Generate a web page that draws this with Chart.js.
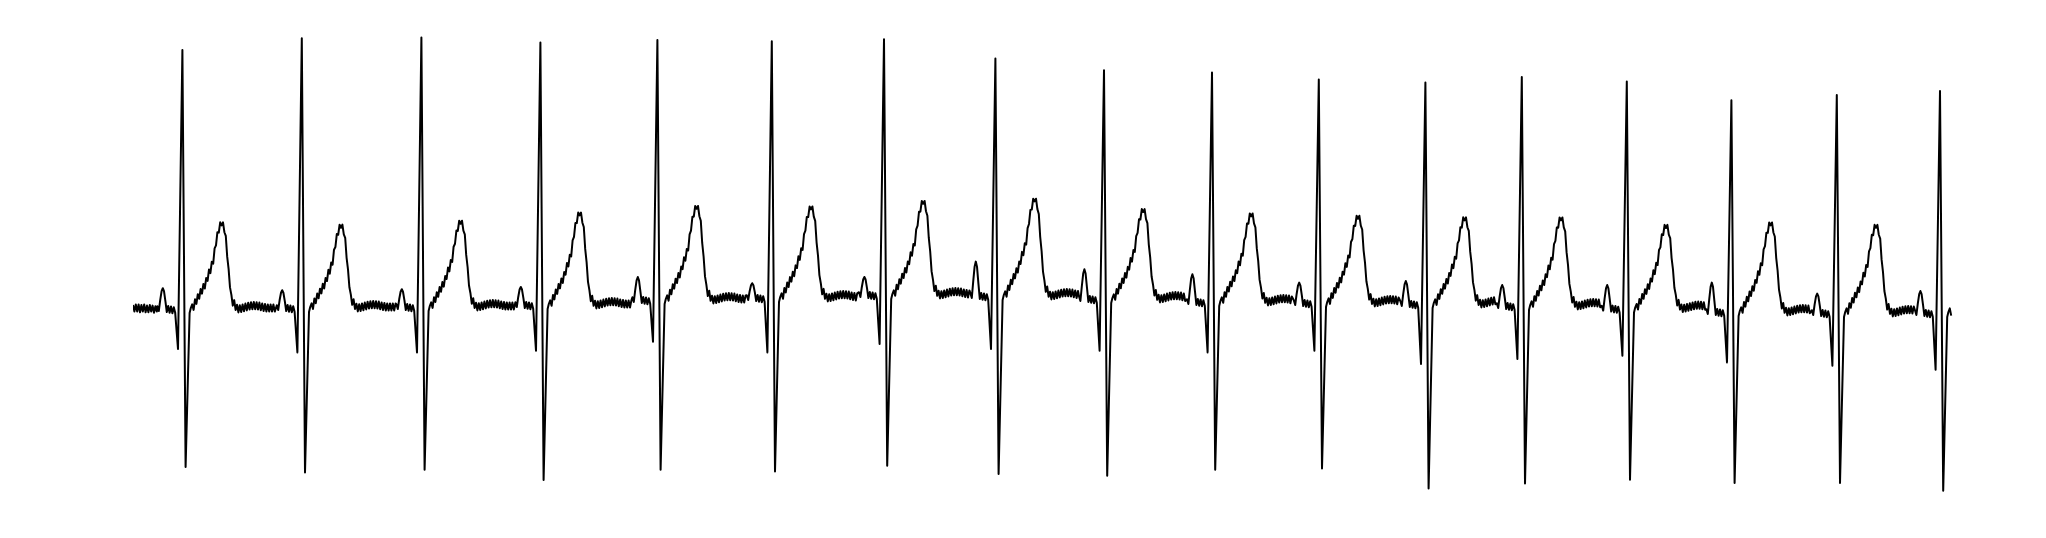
<!DOCTYPE html>
<html>
<head>
<meta charset="utf-8">
<script src="https://cdn.jsdelivr.net/npm/chart.js@4"></script>
<style>
    html, body { margin: 0; padding: 0; background: #fff; }
    #wrap { width: 2046px; height: 538px; }
</style>
</head>
<body>
<div id="wrap"><canvas id="ecg" width="2046" height="538"></canvas></div>
<script>
// R peak of every beat, ms from the start of the strip
const rPeakMs = [247, 844, 1442, 2037, 2622, 3194, 3755, 4312, 4855, 5395, 5929, 6462, 6944, 7469, 7992, 8519, 9035];
const traceEndMs = 9095;

const baselineMv = [-0.005, 0, 0.005, 0.015, 0.04, 0.05, 0.065, 0.06, 0.045, 0.03, 0.025, 0.02, 0.01, -0.003, -0.02, -0.025, -0.025];
const pTopMv = [0.094, 0.084, 0.089, 0.1, 0.15, 0.119, 0.15, 0.227, 0.189, 0.164, 0.122, 0.13, 0.11, 0.11, 0.122, 0.067, 0.08];
const qLowMv = [-0.21, -0.227, -0.227, -0.219, -0.174, -0.227, -0.185, -0.21, -0.219, -0.227, -0.219, -0.285, -0.26, -0.244, -0.277, -0.294, -0.314];
const rTopMv = [1.285, 1.344, 1.347, 1.322, 1.335, 1.329, 1.339, 1.242, 1.184, 1.172, 1.137, 1.122, 1.15, 1.127, 1.034, 1.06, 1.08];
const sLowMv = [-0.8, -0.827, -0.814, -0.865, -0.814, -0.822, -0.794, -0.835, -0.844, -0.814, -0.807, -0.907, -0.882, -0.864, -0.88, -0.88, -0.919];
const tTopMv = [0.422, 0.41, 0.43, 0.472, 0.505, 0.502, 0.53, 0.542, 0.489, 0.467, 0.455, 0.447, 0.447, 0.409, 0.422, 0.41, null];

// strip before the first P wave (ms, mV above first baseline)
const leadInMs = [0, 7, 14, 21, 28, 35, 42, 49, 56, 63, 70, 77, 84, 91, 98, 105, 112, 119];
const leadInMv = [0.015, -0.018, 0.018, -0.018, 0.018, -0.021, 0.015, -0.018, 0.018, -0.021, 0.012, -0.021, 0.015, -0.018, 0.012, -0.024, 0.009, -0.018];

// shape of one beat around its R peak: [ms from R, wave, share of that wave, mains ripple mV]
const beatShape = [
    [-125, 'b', 0, 0.009], [-118, 'b', 0, -0.015],
    [-111, 'p', 0.4, 0], [-104, 'p', 0.85, 0], [-98, 'p', 1, 0], [-92, 'p', 0.85, 0], [-85, 'p', 0.35, 0],
    [-78, 'b', 0, -0.02], [-71, 'b', 0, 0.01], [-64, 'b', 0, -0.024], [-57, 'b', 0, 0.008],
    [-50, 'b', 0, -0.026], [-43, 'b', 0, 0.004], [-36, 'b', 0, -0.024],
    [-22, 'q', 1, 0], [0, 'r', 1, 0], [16, 's', 1, 0],
    [36, 'b', 0, -0.025], [42, 'b', 0, 0],
    [49, 't', 0, 0.018], [56, 't', 0.02, -0.018], [63, 't', 0.06, 0.018], [70, 't', 0.09, -0.018],
    [77, 't', 0.12, 0.018], [84, 't', 0.15, -0.018], [91, 't', 0.18, 0.018], [98, 't', 0.21, -0.018],
    [105, 't', 0.24, 0.018], [112, 't', 0.27, -0.018], [119, 't', 0.31, 0.018], [126, 't', 0.36, -0.018],
    [133, 't', 0.41, 0.018], [140, 't', 0.45, -0.018], [147, 't', 0.5, 0.018], [154, 't', 0.56, -0.018],
    [161, 't', 0.66, 0.016], [168, 't', 0.77, -0.016], [175, 't', 0.85, 0.016], [182, 't', 0.92, -0.016],
    [189, 't', 0.97, 0.014], [196, 't', 1, -0.014], [203, 't', 0.97, 0.014], [210, 't', 0.92, -0.014],
    [217, 't', 0.82, 0.01], [224, 't', 0.62, -0.008], [231, 't', 0.44, 0.008], [238, 't', 0.26, -0.008],
    [245, 't', 0.13, 0.01], [252, 't', 0.07, -0.018], [259, 't', 0.05, 0.018], [266, 't', 0.02, -0.018],
    [273, 'b', 0, 0.016],
    [280, 'b', 0, -0.022], [287, 'b', 0, 0.014], [294, 'b', 0, -0.02], [301, 'b', 0, 0.018],
    [308, 'b', 0, -0.016], [315, 'b', 0, 0.022], [322, 'b', 0, -0.012], [329, 'b', 0, 0.026],
    [336, 'b', 0, -0.008], [343, 'b', 0, 0.029], [350, 'b', 0, -0.006], [357, 'b', 0, 0.03],
    [364, 'b', 0, -0.006], [371, 'b', 0, 0.029], [378, 'b', 0, -0.008], [385, 'b', 0, 0.027],
    [392, 'b', 0, -0.011], [399, 'b', 0, 0.023], [406, 'b', 0, -0.015], [413, 'b', 0, 0.02],
    [420, 'b', 0, -0.018], [427, 'b', 0, 0.018], [434, 'b', 0, -0.018], [441, 'b', 0, 0.018],
    [448, 'b', 0, -0.018], [455, 'b', 0, 0.018], [462, 'b', 0, -0.018], [469, 'b', 0, 0.018],
    [476, 'b', 0, -0.018]
];

function buildTrace() {
    const pts = [];
    const base0 = baselineMv[0];
    leadInMs.forEach((t, k) => pts.push({ x: t, y: base0 + leadInMv[k] }));

    rPeakMs.forEach((r, i) => {
        const b = baselineMv[i];
        const levels = {
            b: b, p: pTopMv[i], q: qLowMv[i], r: rTopMv[i], s: sLowMv[i],
            t: tTopMv[i] === null ? b : tTopMv[i]
        };
        const next = rPeakMs[i + 1];
        beatShape.forEach(([off, wave, share, ripple]) => {
            const x = r + off;
            if (next !== undefined && x >= next - 128) return;
            if (next === undefined && x > traceEndMs) return;
            pts.push({ x: x, y: b + share * (levels[wave] - b) + ripple });
        });
    });
    return pts;
}

new Chart(document.getElementById('ecg'), {
    type: 'line',
    data: {
        datasets: [{
            data: buildTrace(),
            borderColor: '#000',
            borderWidth: 2,
            borderJoinStyle: 'round',
            pointRadius: 0,
            tension: 0,
            fill: false
        }]
    },
    options: {
        responsive: false,
        animation: false,
        devicePixelRatio: 1,
        layout: { padding: { left: 133, right: 93, top: 0, bottom: 0 } },
        plugins: { legend: { display: false }, tooltip: { enabled: false } },
        scales: {
            x: { type: 'linear', min: 0, max: 9100, display: false },
            y: { min: -1.155, max: 1.535, display: false }
        }
    }
});
</script>
</body>
</html>
